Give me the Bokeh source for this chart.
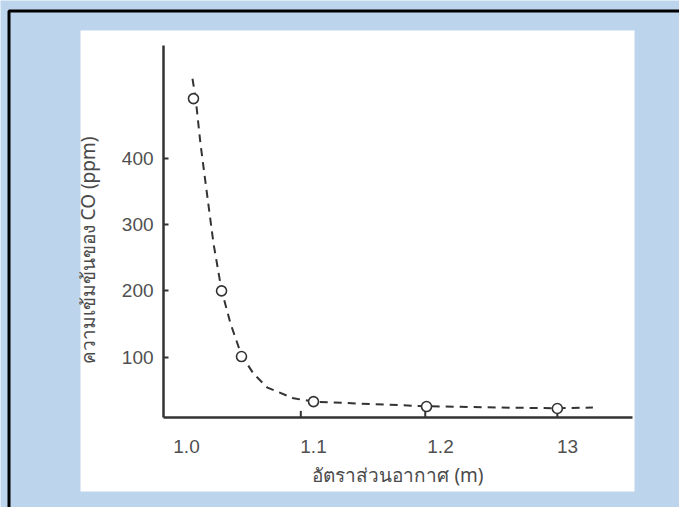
from bokeh.plotting import figure
from bokeh.models import BoxAnnotation, Range1d, FixedTicker, LinearAxis
from bokeh.embed import file_html
from bokeh.resources import INLINE

# --- data ---
point_ratio = [1.0055, 1.0276, 1.0433, 1.100, 1.189, 1.292]
point_co = [490, 200, 101, 33, 25.6, 22.6]

curve_ratio = [1.0047, 1.0071, 1.011, 1.0165, 1.0213, 1.0276, 1.0346, 1.0433,
               1.0528, 1.0638, 1.0843, 1.100, 1.137, 1.189, 1.247, 1.292, 1.32]
curve_co = [520, 492, 422, 341, 271, 201, 151, 103, 75, 54, 38, 33, 30, 26, 24, 23, 24]

stem_ratio = [1.09, 1.188, 1.292]
stem_top = [19, 25.6, 22.6]

x_ticks = [1.0, 1.1, 1.2, 1.3]
x_tick_labels = {1.0: "1.0", 1.1: "1.1", 1.2: "1.2", 1.3: "13"}
y_ticks = [100, 200, 300, 400]

x_label = "อัตราส่วนอากาศ (m)"
y_label = "ความเข้มข้นของ CO (ppm)"

# axis extents (data units)
x_axis_from, x_axis_to = 0.9819, 1.3512
y_axis_from, y_axis_to = 9.0, 570.0
y_label_span = (-48.0, 570.0)

BLUE = "#bdd5ec"
INK = "#333333"
FONT = "Liberation Sans"

p = figure(width=679, height=507, output_backend="svg", toolbar_location=None,
           x_range=Range1d(0.85354, 1.38819), y_range=Range1d(-126.7, 638.0),
           x_axis_type=None, y_axis_type=None,
           min_border=0, min_border_left=0, min_border_right=0,
           min_border_top=0, min_border_bottom=0)
p.border_fill_color = BLUE
p.background_fill_color = BLUE
p.outline_line_color = None
p.grid.visible = False

# white paper panel and black frame line (canvas units)
panel = BoxAnnotation(left=80, right=634, top=30, bottom=491,
                      left_units="canvas", right_units="canvas",
                      top_units="canvas", bottom_units="canvas",
                      fill_color="white", fill_alpha=1, line_color=None, level="underlay")
border = BoxAnnotation(left=8.5, right=720, top=10.5, bottom=600,
                       left_units="canvas", right_units="canvas",
                       top_units="canvas", bottom_units="canvas",
                       fill_alpha=0, line_color="black", line_alpha=1, line_width=3,
                       level="underlay")
p.add_layout(panel)
p.add_layout(border)

xaxis = LinearAxis(fixed_location=y_axis_from, bounds=(x_axis_from, x_axis_to))
yaxis = LinearAxis(fixed_location=x_axis_from, bounds=(y_axis_from, y_axis_to))
ylab = LinearAxis(fixed_location=x_axis_from, bounds=y_label_span)
p.add_layout(xaxis, "below")
p.add_layout(yaxis, "left")
p.add_layout(ylab, "left")

for ax in (xaxis, yaxis, ylab):
    ax.axis_line_color = INK
    ax.axis_line_width = 2.5
    ax.major_label_text_font = FONT
    ax.major_label_text_font_size = "19px"
    ax.major_label_text_color = "#505050"
    ax.axis_label_text_font = "Noto Sans"
    ax.axis_label_text_font_size = "19px"
    ax.axis_label_text_font_style = "normal"
    ax.axis_label_text_color = "#4a4a4a"
    ax.minor_tick_line_color = None

xaxis.ticker = FixedTicker(ticks=x_ticks)
xaxis.major_label_overrides = x_tick_labels
xaxis.major_tick_line_color = None
xaxis.major_label_standoff = 16
xaxis.axis_label = x_label
xaxis.axis_label_standoff = 6

yaxis.ticker = FixedTicker(ticks=y_ticks)
yaxis.major_tick_in = 5
yaxis.major_tick_out = 0
yaxis.major_tick_line_color = INK
yaxis.major_tick_line_width = 2
yaxis.major_label_standoff = 10

# label-only axis so the y title sits where the original has it
ylab.ticker = FixedTicker(ticks=[])
ylab.axis_line_color = None
ylab.major_tick_line_color = None
ylab.major_tick_in = 0
ylab.major_tick_out = 0
ylab.axis_label = y_label
ylab.axis_label_standoff = 63

# stems / small ticks
p.segment(x0=stem_ratio, y0=[y_axis_from] * len(stem_ratio), x1=stem_ratio, y1=stem_top,
          line_color=INK, line_width=2)

# dashed curve
p.line(curve_ratio, curve_co, line_color=INK, line_width=2, line_dash="8 6")

# open circles
p.scatter(point_ratio, point_co, marker="circle", size=10, fill_color="white",
          line_color=INK, line_width=1.6)

open("out.html", "w").write(file_html(p, INLINE))
